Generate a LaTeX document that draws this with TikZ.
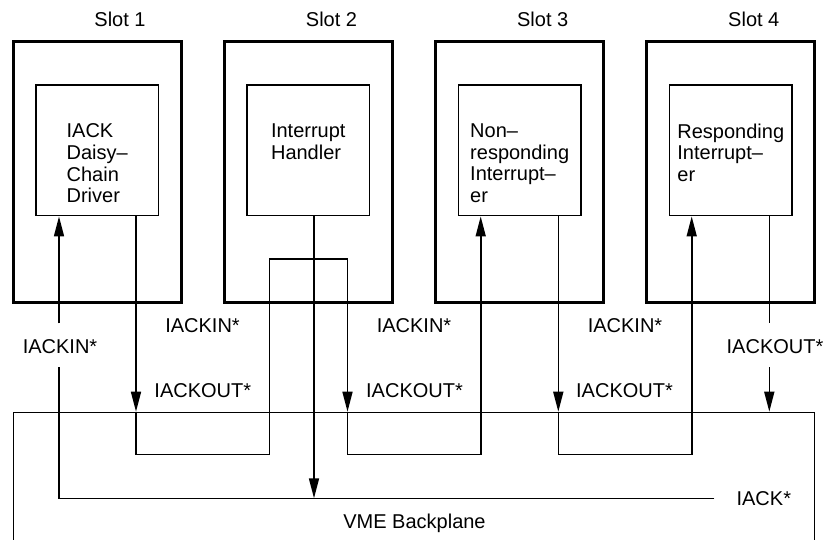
\documentclass[tikz,border=0pt]{standalone}
\usepackage{fontspec}
\setmainfont{Liberation Sans}
\usetikzlibrary{arrows.meta}
\begin{document}
\begin{tikzpicture}[x=1pt,y=-1pt,
  slotbox/.style={draw,line width=3pt,minimum width=168pt,minimum height=260.6pt,inner sep=0pt},
  unitbox/.style={draw,line width=1.6pt,minimum width=122.5pt,minimum height=130.7pt,inner sep=0pt},
  txt/.style={font=\fontsize{20}{21.7}\selectfont,inner sep=0pt},
  lbl/.style={txt,anchor=base},
  unittxt/.style={txt,align=left,anchor=north},
  wire/.style={line width=1.6pt},
  arr/.style={wire,-{Triangle[length=20pt,width=10pt]}},
]
\useasboundingbox (0,0) rectangle (828,540);

% backplane (open at bottom, beyond the picture)
\node[draw,line width=1.6pt,minimum width=801pt,minimum height=200pt,anchor=north,inner sep=0pt] (bp) at (413.8,411.7) {};
\node[lbl] (bpl) at (414.5,528.3) {VME Backplane};

% slots
\node[slotbox] (s1) at (97.5,172) {};
\node[slotbox] (s2) at (308.5,172) {};
\node[slotbox] (s3) at (519.7,172) {};
\node[slotbox] (s4) at (730.8,172) {};
\node[lbl] (sl1) at (120,26.7) {Slot 1};
\node[lbl] (sl2) at (331.5,26.7) {Slot 2};
\node[lbl] (sl3) at (542.7,26.7) {Slot 3};
\node[lbl] (sl4) at (753.8,26.7) {Slot 4};

% units
\node[unitbox] (u1) at (97.2,150.3) {};
\node[unitbox] (u2) at (308.3,150.3) {};
\node[unitbox] (u3) at (519.7,150.3) {};
\node[unitbox] (u4) at (730.8,150.3) {};
\node[unittxt] (t1) at (97.2,123.5) {IACK\\Daisy–\\Chain\\Driver};
\node[unittxt] (t2) at (308.3,123.5) {Interrupt\\Handler};
\node[unittxt] (t3) at (519.7,123.5) {Non–\\responding\\Interrupt–\\er};
\node[unittxt] (t4) at (730.8,123.5) {Responding\\Interrupt–\\er};

% signal labels
\node[lbl] (in0) at (60,353.3) {IACKIN*};
\node[lbl] (in1) at (202.5,332.3) {IACKIN*};
\node[lbl] (in2) at (414,332.3) {IACKIN*};
\node[lbl] (in3) at (625,332.3) {IACKIN*};
\node[lbl] (out1) at (202.8,397.7) {IACKOUT*};
\node[lbl] (out2) at (414.5,397.7) {IACKOUT*};
\node[lbl] (out3) at (624.5,397.7) {IACKOUT*};
\node[lbl] (out4) at (775,353.3) {IACKOUT*};
\node[lbl] (ack) at (763.8,505) {IACK*};

% wire positions
\coordinate (c1i) at (59,0);
\coordinate (c1o) at (136,0);
\coordinate (c2l) at (269.3,0);
\coordinate (c2h) at (314,0);
\coordinate (c2r) at (347.5,0);
\coordinate (c3i) at (480.7,0);
\coordinate (c3o) at (558.3,0);
\coordinate (c4i) at (691.7,0);
\coordinate (c4o) at (769.3,0);
\coordinate (yl) at (0,454.3);
\coordinate (ya) at (0,498.3);
\coordinate (yu) at (0,259.3);
\coordinate (yg1) at (0,323.5);
\coordinate (yg2) at (0,367.2);
\coordinate (ae) at (714.3,498.3);

% daisy chain
\draw[arr] (u1.south -| c1o) -- (bp.north -| c1o);
\draw[arr] (bp.north -| c1o) -- (yl -| c1o) -- (yl -| c2l) -- (yu -| c2l) -- (yu -| c2r) -- (bp.north -| c2r);
\draw[arr] (bp.north -| c2r) -- (yl -| c2r) -- (yl -| c3i) -- (u3.south -| c3i);
\draw[arr] (u3.south -| c3o) -- (bp.north -| c3o);
\draw[arr] (bp.north -| c3o) -- (yl -| c3o) -- (yl -| c4i) -- (u4.south -| c4i);
\draw[wire] (u4.south -| c4o) -- (yg1 -| c4o);
\draw[arr] (yg2 -| c4o) -- (bp.north -| c4o);

% IACK
\draw[wire] (ae) -- (ya -| c1i) -- (yg2 -| c1i);
\draw[arr] (yg1 -| c1i) -- (u1.south -| c1i);
\draw[arr] (u2.south -| c2h) -- (ya -| c2h);
\end{tikzpicture}
\end{document}
